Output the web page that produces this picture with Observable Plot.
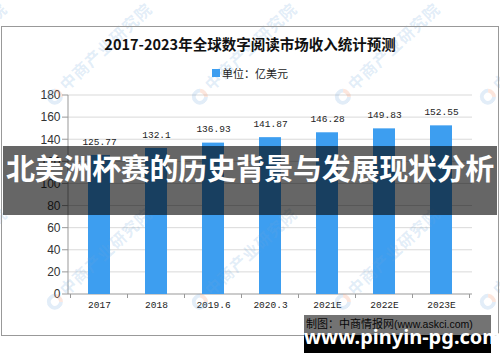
<!DOCTYPE html>
<html><head><meta charset="utf-8">
<script src="https://cdn.jsdelivr.net/npm/d3@7"></script>
<script src="https://cdn.jsdelivr.net/npm/@observablehq/plot@0.6"></script>
<style>
body{margin:0;background:#fff;}
#wrap{position:relative;width:500px;height:362px;overflow:hidden;font-family:"Noto Sans CJK SC",sans-serif;}
#wrap svg{position:absolute;left:0;top:0;}
.abs{position:absolute;}
.wm{position:absolute;transform-origin:0 50%;transform:rotate(-43deg);white-space:nowrap;font:bold 16px "Noto Sans CJK SC";color:rgba(110,165,220,0.2);letter-spacing:1px;}
.wm span{display:inline-block;width:16px;height:16px;border-radius:50%;border:4px solid rgba(110,165,220,0.2);border-right-color:rgba(240,140,100,0.22);box-sizing:border-box;margin-right:4px;vertical-align:middle;}
</style></head>
<body><div id="wrap"></div>
<script>
const categories = ["2017","2018","2019.6","2020.3","2021E","2022E","2023E"];
const values = [125.77,132.1,136.93,141.87,146.28,149.83,152.55];
const valueLabels = ["125.77","132.1","136.93","141.87","146.28","149.83","152.55"];
const yTicks = [0,20,40,60,80,100,120,140,160,180];

const data = categories.map((c,i)=>({year:c, value:values[i], label:valueLabels[i]}));

function axisLines(index, scales, values_, dims) {
  const x = scales.x, y = scales.y;
  const L = dims.marginLeft, R = dims.width - dims.marginRight, B = dims.height - dims.marginBottom;
  const g = d3.create("svg:g");
  for (const t of yTicks) {
    if (t > 0) g.append("line").attr("x1", L).attr("x2", R).attr("y1", y(t)).attr("y2", y(t)).attr("stroke", "#d9d9d9");
    g.append("line").attr("x1", L-6).attr("x2", L).attr("y1", y(t)).attr("y2", y(t)).attr("stroke", "#999");
  }
  g.append("line").attr("x1", L).attr("x2", L).attr("y1", y(180)).attr("y2", B).attr("stroke", "#999");
  g.append("line").attr("x1", L).attr("x2", R).attr("y1", B).attr("y2", B).attr("stroke", "#999");
  const step = (x(categories[1]) - x(categories[0]));
  const bw = x.bandwidth ? x.bandwidth() : step*0.38;
  const bounds = categories.map(c => x(c) - (step - bw)/2);
  bounds.push(bounds[bounds.length-1] + step);
  for (const b of bounds) g.append("line").attr("x1", b).attr("x2", b).attr("y1", B).attr("y2", B+4).attr("stroke", "#999");
  return g.node();
}

const plot = Plot.plot({
  width: 500, height: 362,
  marginLeft: 68, marginRight: 28, marginTop: 95, marginBottom: 68,
  style: {background: "transparent", color: "#222"},
  x: {domain: categories, paddingInner: 0.62, paddingOuter: 0.31, axis: null},
  y: {domain: [0, 180], axis: null},
  marks: [
    axisLines,
    Plot.barY(data, {x: "year", y: "value", fill: "#3d9ef0"}),
    Plot.text(data, {x: "year", y: "value", text: "label", dy: -14, fontFamily: "Liberation Mono", fontSize: 9.5, fill: "#222"}),
    Plot.text(yTicks, {y: d => d, text: d => String(d), frameAnchor: "left", dx: -8, textAnchor: "end", fontFamily: "Liberation Sans", fontSize: 12, fill: "#333"}),
    Plot.text(categories, {x: d => d, text: d => d, frameAnchor: "bottom", dy: 13, fontFamily: "Liberation Mono", fontSize: 9.5, fill: "#222"})
  ]
});

const wrap = document.getElementById("wrap");
wrap.appendChild(plot);

function add(html){ wrap.insertAdjacentHTML("beforeend", html); }
// watermarks
for (const y0 of [100, 305]) for (const x0 of [-90, 55, 200, 343, 488]) {
  add(`<div class="wm" style="left:${x0-8}px;top:${y0-12}px"><span></span>中商产业研究院</div>`);
}
add(`<div class="abs" style="left:1px;top:26px;width:496px;height:308px;border:1px solid #999;"></div>`);
add(`<div class="abs" style="left:0;top:33px;width:500px;text-align:center;font:bold 14.5px 'Noto Sans CJK SC';color:#111;line-height:22px;">2017-2023年全球数字阅读市场收入统计预测</div>`);
add(`<div class="abs" style="left:212px;top:69px;width:8px;height:8px;background:#3d9ef0;"></div>`);
add(`<div class="abs" style="left:222px;top:65px;font:11px 'Noto Sans CJK SC';color:#222;line-height:16px;">单位：亿美元</div>`);
add(`<div class="abs" style="left:306px;top:315px;font:11px 'Noto Sans CJK SC';color:#111;line-height:16px;white-space:nowrap;">制图：中商情报网<span style="font-family:'Liberation Sans';font-size:10.5px">(www.askci.com)</span></div>`);
// banner
add(`<div class="abs" style="left:3px;top:146px;width:494px;height:69px;background:rgba(0,0,0,0.6);"></div>`);
add(`<div class="abs" style="left:0;top:146px;width:500px;height:69px;line-height:69px;text-align:center;font:bold 29px 'Noto Sans CJK SC';color:#fff;white-space:nowrap;letter-spacing:-0.3px;">北美洲杯赛的历史背景与发展现状分析</div>`);
// bottom site label
add(`<div class="abs" style="left:304px;top:315px;width:187px;height:20px;background:rgba(0,0,0,0.55);"></div>`);
add(`<div class="abs" style="left:304px;top:335px;width:187px;height:18px;background:#000;"></div>`);
add(`<div class="abs" style="left:304px;top:323px;width:187px;text-align:center;font:bold 20px 'Noto Sans';color:#fff;line-height:28px;white-space:nowrap;">www.pinyin-pg.com</div>`);
</script></body></html>
